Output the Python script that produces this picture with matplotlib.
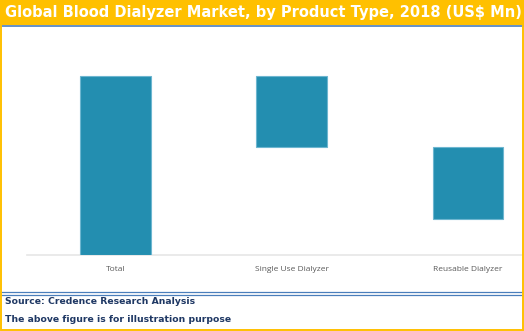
import matplotlib
matplotlib.use("Agg")
import matplotlib.pyplot as plt
from matplotlib.patches import Rectangle
from matplotlib.lines import Line2D

categories = ["Total", "Single Use Dialyzer", "Reusable Dialyzer"]
values = [100, 40, 40]          # Total, then each segment's share
title = "Global Blood Dialyzer Market, by Product Type, 2018 (US$ Mn)"
source_lines = ["Source: Credence Research Analysis",
                "The above figure is for illustration purpose"]

W, H = 524, 331
fig = plt.figure(figsize=(W / 100, H / 100), dpi=100)
fig.patch.set_facecolor("white")

def fx(px):
    return px / W

def fy(py):
    return 1 - py / H

# Waterfall: total bar from zero, segments hang down from the running top
bottoms = [0]
heights = [values[0]]
running = values[0]
for v in values[1:]:
    running -= v
    bottoms.append(running)
    heights.append(v)

base_px, top_px = 254.7, 30
ax = fig.add_axes([fx(27), fy(base_px), fx(522 - 27), (base_px - top_px) / H])
unit_px = (base_px - 76) / values[0]
ax.set_ylim(0, (base_px - top_px) / unit_px)
ax.set_xlim(-0.5, 2.305)

x = list(range(len(categories)))
ax.bar(x, heights, bottom=bottoms, width=0.4, color="#238EB0",
       edgecolor="#6DB6D0", linewidth=0.8, zorder=3)

ax.set_xticks(x)
ax.set_xticklabels(categories, fontsize=6.0, color="#595959",
                   family=["Open Sans", "DejaVu Sans"])
ax.tick_params(axis="x", length=0, pad=8)
ax.set_yticks([])
for s in ("top", "right", "left"):
    ax.spines[s].set_visible(False)
ax.spines["bottom"].set_color("#E6E6E6")
ax.spines["bottom"].set_linewidth(1.2)
ax.patch.set_alpha(0)

# Title band
fig.patches.append(Rectangle((0, fy(25)), 1, 1 - fy(25), transform=fig.transFigure,
                             facecolor="#FFC000", edgecolor="none", zorder=0))
fig.lines.append(Line2D([0, 1], [fy(25.5), fy(25.5)], transform=fig.transFigure,
                        color="#4A7EBB", linewidth=1.2))
fig.text(fx(5), fy(13), title, color="white", fontsize=10.55, fontweight="bold",
         va="center", ha="left", family=["DejaVu Sans"])

# Footer rules and notes
for yy in (292.3, 294.5):
    fig.lines.append(Line2D([0, fx(522)], [fy(yy), fy(yy)], transform=fig.transFigure,
                            color="#4A7EBB", linewidth=0.9))
fig.text(fx(5), fy(302), source_lines[0], color="#1F3864", fontsize=6.7,
         fontweight="bold", va="center", ha="left", family=["DejaVu Sans"])
fig.text(fx(5), fy(319.5), source_lines[1], color="#1F3864", fontsize=6.7,
         fontweight="bold", va="center", ha="left", family=["DejaVu Sans"])

# Outer border
fig.patches.append(Rectangle((fx(0.8), fy(330.2)), fx(522.4), 1 - fy(330.2),
                             transform=fig.transFigure, facecolor="none",
                             edgecolor="#FFC000", linewidth=1.4, zorder=5))

fig.savefig("out.png", dpi=100)
